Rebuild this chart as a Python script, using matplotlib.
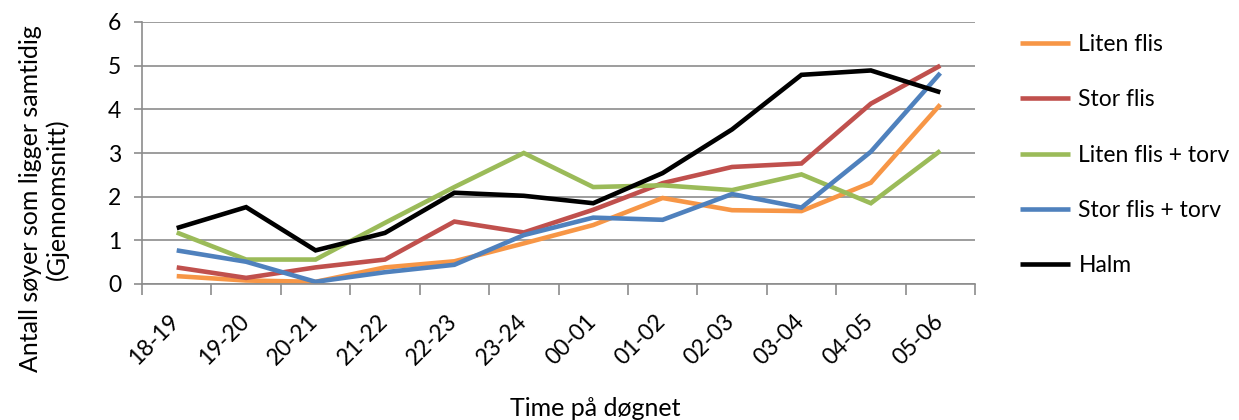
import matplotlib
matplotlib.use("Agg")
import matplotlib.pyplot as plt
import matplotlib.transforms as mtrans
import numpy as np

categories = ["18-19", "19-20", "20-21", "21-22", "22-23", "23-24",
              "00-01", "01-02", "02-03", "03-04", "04-05", "05-06"]
liten_flis = [0.18, 0.08, 0.05, 0.38, 0.52, 0.93, 1.35, 1.97, 1.69, 1.67, 2.32, 4.11]
stor_flis = [0.38, 0.14, 0.38, 0.56, 1.43, 1.18, 1.70, 2.31, 2.68, 2.76, 4.13, 5.0]
liten_flis_torv = [1.18, 0.56, 0.56, 1.40, 2.22, 3.0, 2.22, 2.26, 2.15, 2.51, 1.85, 3.05]
stor_flis_torv = [0.77, 0.51, 0.05, 0.27, 0.44, 1.12, 1.52, 1.47, 2.06, 1.75, 3.03, 4.83]
halm = [1.28, 1.76, 0.77, 1.17, 2.09, 2.02, 1.85, 2.54, 3.54, 4.79, 4.89, 4.39]

series = [
    ("Liten flis", liten_flis, "#F79646"),
    ("Stor flis", stor_flis, "#C0504D"),
    ("Liten flis + torv", liten_flis_torv, "#9BBB59"),
    ("Stor flis + torv", stor_flis_torv, "#4F81BD"),
    ("Halm", halm, "#000000"),
]

plt.rcParams['font.family'] = ['Lato', 'DejaVu Sans']

fig = plt.figure(figsize=(12.39, 4.2), dpi=100)
ax = fig.add_axes([142/1239, 1-284/420, (975-142)/1239, (284-22)/420])

x = np.arange(len(categories))
for name, vals, col in series:
    ax.plot(x, vals, color=col, lw=3.3, label=name, solid_capstyle='butt', solid_joinstyle='miter')

ax.set_xlim(-0.5, len(categories) - 0.5)
ax.set_ylim(0, 6)
ax.set_yticks(range(0, 7))
ax.yaxis.grid(True, color="#8c8c8c", lw=1.2)
ax.set_axisbelow(True)

ax.set_xticks(x)
ax.set_xticklabels(categories, rotation=45, ha='right', va='top', rotation_mode='anchor', fontsize=16.5)
ax.tick_params(axis='x', which='major', length=0, pad=19)
offset = mtrans.ScaledTranslation(-8/100, 0, fig.dpi_scale_trans)
for lab in ax.get_xticklabels():
    lab.set_transform(lab.get_transform() + offset)
ax.set_xticks(np.arange(-0.5, len(categories)), minor=True)
ax.tick_params(axis='x', which='minor', length=8, color="#8c8c8c", width=1.2)
ax.tick_params(axis='y', length=6, color="#8c8c8c", width=1.2, labelsize=16.5, pad=9)

for s in ['top', 'right']:
    ax.spines[s].set_visible(False)
for s in ['left', 'bottom']:
    ax.spines[s].set_color("#8c8c8c")
    ax.spines[s].set_linewidth(1.2)

fig.text(595/1239, 1-408/420, "Time på døgnet", ha='center', va='center', fontsize=18)
fig.text(44/1239, 1-199/420, "Antall søyer som ligger samtidig\n(Gjennomsnitt)",
         ha='center', va='center', rotation=90, fontsize=18, linespacing=1.15)

leg = fig.legend(loc='upper left', bbox_to_anchor=(1020/1239, 1-34/420), frameon=False,
                 fontsize=16.5, handlelength=2.2, labelspacing=1.5, handletextpad=0.35,
                 borderpad=0, borderaxespad=0)
for h in leg.get_lines():
    h.set_linewidth(3.3)

fig.savefig("out.png", dpi=100)
